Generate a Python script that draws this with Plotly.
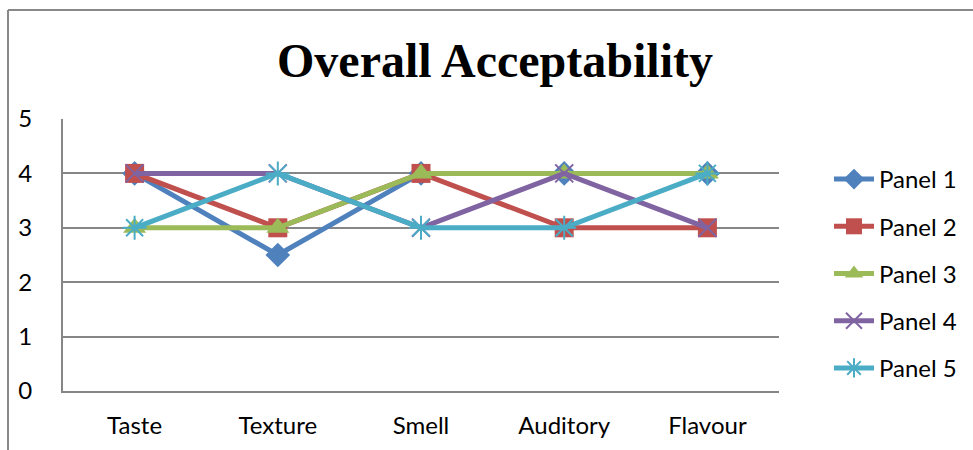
import plotly.graph_objects as go

categories = ["Taste", "Texture", "Smell", "Auditory", "Flavour"]
panel1 = [4, 2.5, 4, 4, 4]
panel2 = [4, 3, 4, 3, 3]
panel3 = [3, 3, 4, 4, 4]
panel4 = [4, 4, 3, 4, 3]
panel5 = [3, 4, 3, 3, 4]
series_names = ["Panel 1", "Panel 2", "Panel 3", "Panel 4", "Panel 5"]
series_values = [panel1, panel2, panel3, panel4, panel5]
colors = ["#4F81BD", "#C0504D", "#9BBB59", "#8064A2", "#4BACC6"]
symbols = ["diamond", "square", "triangle-up", "x-thin-open", "asterisk-open"]
sizes = [19, 19, 20, 18, 20]

W, H = 973, 450
L, R, T, B = 63, 194, 119, 59
pw, ph = W - L - R, H - T - B

fig = go.Figure()
for i, (name, vals) in enumerate(zip(series_names, series_values)):
    open_sym = symbols[i].endswith("open")
    fig.add_trace(go.Scatter(
        x=categories, y=vals, name=name, mode="lines+markers",
        line=dict(color=colors[i], width=5),
        marker=dict(symbol=symbols[i], size=sizes[i], color=colors[i],
                    line=dict(color=colors[i], width=2 if open_sym else 0)),
        legendgroup=name,
    ))

def px_x(x):
    return (x - L) / pw

def px_y(y):
    return (H - B - y) / ph

fig.update_layout(
    width=W, height=H,
    margin=dict(l=L, r=R, t=T, b=B, autoexpand=False),
    paper_bgcolor="white", plot_bgcolor="white",
    title=dict(text="<b>Overall Acceptability</b>", x=495 / W, xref="container",
               xanchor="center", y=1 - 60 / H, yref="container", yanchor="middle",
               font=dict(family="Liberation Serif", size=48, color="black")),
    font=dict(family="Lato", size=24, color="black"),
    xaxis=dict(range=[-0.5, 4.5], showgrid=False, showline=True, linecolor="#868686",
               linewidth=2, ticks="", ticklabelstandoff=12, zeroline=False,
               tickfont=dict(size=24)),
    yaxis=dict(range=[0, 5], dtick=1, showgrid=True, gridcolor="#868686", gridwidth=2,
               showline=True, linecolor="#868686", linewidth=2, zeroline=False,
               ticks="", ticklabelstandoff=24, tickfont=dict(size=24)),
    legend=dict(x=px_x(829), xanchor="left", y=px_y(157), yanchor="top",
                font=dict(size=24), tracegroupgap=13, itemwidth=40,
                bgcolor="rgba(0,0,0,0)"),
    showlegend=True,
    shapes=[
        dict(type="line", xref="paper", yref="paper", x0=px_x(8), x1=px_x(980),
             y0=px_y(10), y1=px_y(10), line=dict(color="#888888", width=2)),
        dict(type="line", xref="paper", yref="paper", x0=px_x(8), x1=px_x(8),
             y0=px_y(10), y1=px_y(460), line=dict(color="#888888", width=2)),
    ],
)

fig.write_html("out.html")
